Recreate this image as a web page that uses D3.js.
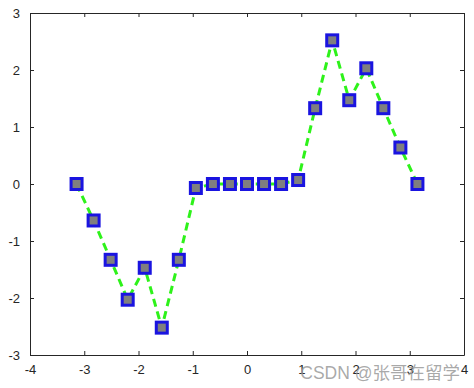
<!DOCTYPE html>
<html>
<head>
<meta charset="utf-8">
<script src="https://cdn.jsdelivr.net/npm/d3@7"></script>
<style>
  body { margin: 0; background: #fff; }
  svg text { font-family: "Liberation Sans", Arial, sans-serif; }
</style>
</head>
<body>
<svg id="chart" width="474" height="388"></svg>
<script>
// x samples (-pi..pi in steps of pi/10) and the values
var xVals = [-3.1416, -2.8274, -2.5133, -2.1991, -1.885, -1.5708, -1.2566, -0.9425, -0.6283, -0.3142, 0,
             0.3142, 0.6283, 0.9425, 1.2566, 1.5708, 1.885, 2.1991, 2.5133, 2.8274, 3.1416];
var yVals = [0, -0.64, -1.33, -2.03, -1.47, -2.52, -1.33, -0.07, 0, 0, 0,
             0, 0, 0.07, 1.33, 2.52, 1.47, 2.03, 1.33, 0.64, 0];
var xTicks = [-4, -3, -2, -1, 0, 1, 2, 3, 4];
var yTicks = [-3, -2, -1, 0, 1, 2, 3];

var svg = d3.select("#chart");
var plotLeft = 30, plotRight = 464, plotTop = 13, plotBottom = 355;

var x = d3.scaleLinear().domain([-4, 4]).range([plotLeft, plotRight]);
var y = d3.scaleLinear().domain([-3, 3]).range([plotBottom, plotTop]);

var axisColor = "#262626";
var fmt = function (d) { return String(d); };

// axes with inward ticks, box on
var gx = svg.append("g").attr("transform", "translate(0," + plotBottom + ")")
    .call(d3.axisBottom(x).tickValues(xTicks).tickFormat(fmt).tickSizeInner(-4).tickSizeOuter(0).tickPadding(10));
var gy = svg.append("g").attr("transform", "translate(" + plotLeft + ",0)")
    .call(d3.axisLeft(y).tickValues(yTicks).tickFormat(fmt).tickSizeInner(-4).tickSizeOuter(0).tickPadding(10));
var gxt = svg.append("g").attr("transform", "translate(0," + plotTop + ")")
    .call(d3.axisTop(x).tickValues(xTicks).tickSizeInner(-4).tickSizeOuter(0).tickFormat(""));
var gyr = svg.append("g").attr("transform", "translate(" + plotRight + ",0)")
    .call(d3.axisRight(y).tickValues(yTicks).tickSizeInner(-4).tickSizeOuter(0).tickFormat(""));

[gx, gy, gxt, gyr].forEach(function (g) {
    g.select(".domain").attr("stroke", axisColor).attr("stroke-width", 1);
    g.selectAll(".tick line").attr("stroke", axisColor);
    g.selectAll(".tick text").attr("fill", axisColor).attr("font-size", 13);
});

var pts = xVals.map(function (d, i) { return [d, yVals[i]]; });

// dashed green line
svg.append("path")
    .datum(pts)
    .attr("d", d3.line().x(function (d) { return x(d[0]); }).y(function (d) { return y(d[1]); }))
    .attr("fill", "none")
    .attr("stroke", "#2ef21a")
    .attr("stroke-width", 3)
    .attr("stroke-dasharray", "8,5");

// square markers
var ms = 11;
svg.selectAll("rect.mk")
    .data(pts)
    .enter().append("rect")
    .attr("class", "mk")
    .attr("x", function (d) { return x(d[0]) - ms / 2; })
    .attr("y", function (d) { return y(d[1]) - ms / 2; })
    .attr("width", ms)
    .attr("height", ms)
    .attr("fill", "#7f7f7f")
    .attr("stroke", "#1a14e0")
    .attr("stroke-width", 3);

// watermark
svg.append("text")
    .attr("x", 460)
    .attr("y", 379)
    .attr("text-anchor", "end")
    .attr("font-size", 17.5)
    .attr("fill", "#9a9a9a")
    .attr("fill-opacity", 0.85)
    .style("font-family", "'Liberation Sans', 'Noto Sans CJK SC', sans-serif")
    .text("CSDN @张哥在留学");
</script>
</body>
</html>
